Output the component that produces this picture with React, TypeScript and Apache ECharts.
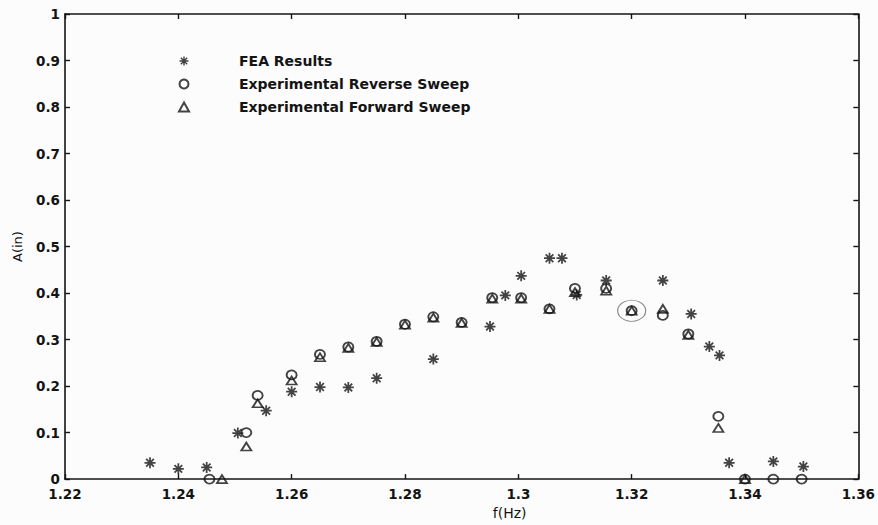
import React, { useEffect, useRef } from "react";
import * as echarts from "echarts";

// ---- Data ----
const xMin = 1.22;
const xMax = 1.36;
const xInterval = 0.02;
const yMin = 0;
const yMax = 1;
const yInterval = 0.1;

const seriesNames = [
  "FEA Results",
  "Experimental Reverse Sweep",
  "Experimental Forward Sweep",
];

const xAxisTitle = "f(Hz)";
const yAxisTitle = "A(in)";

// FEA results (asterisks): [frequency Hz, amplitude in]
const feaResults: [number, number][] = [
  [1.235, 0.035],
  [1.24, 0.022],
  [1.245, 0.025],
  [1.2505, 0.099],
  [1.2555, 0.147],
  [1.26, 0.188],
  [1.265, 0.198],
  [1.27, 0.197],
  [1.275, 0.217],
  [1.285, 0.258],
  [1.295, 0.328],
  [1.2977, 0.395],
  [1.3005, 0.437],
  [1.3055, 0.475],
  [1.3077, 0.475],
  [1.3103, 0.396],
  [1.3155, 0.427],
  [1.3255, 0.427],
  [1.3305, 0.355],
  [1.3337, 0.285],
  [1.3355, 0.266],
  [1.3372, 0.035],
  [1.345, 0.038],
  [1.3503, 0.027],
];

// Experimental reverse sweep (circles)
const reverseSweep: [number, number][] = [
  [1.2455, 0.0],
  [1.252, 0.1],
  [1.254, 0.18],
  [1.26, 0.224],
  [1.265, 0.268],
  [1.27, 0.284],
  [1.275, 0.296],
  [1.28, 0.333],
  [1.285, 0.349],
  [1.29, 0.337],
  [1.2954, 0.39],
  [1.3005, 0.39],
  [1.3055, 0.366],
  [1.31, 0.41],
  [1.3155, 0.41],
  [1.32, 0.362],
  [1.3255, 0.352],
  [1.33, 0.312],
  [1.3353, 0.135],
  [1.34, 0.0],
  [1.345, 0.0],
  [1.35, 0.0],
];

// Experimental forward sweep (triangles)
const forwardSweep: [number, number][] = [
  [1.2477, 0.0],
  [1.252, 0.07],
  [1.254, 0.163],
  [1.26, 0.212],
  [1.265, 0.262],
  [1.27, 0.282],
  [1.275, 0.295],
  [1.28, 0.332],
  [1.285, 0.347],
  [1.29, 0.336],
  [1.2954, 0.388],
  [1.3005, 0.388],
  [1.3055, 0.366],
  [1.31, 0.402],
  [1.3155, 0.405],
  [1.32, 0.362],
  [1.3255, 0.366],
  [1.33, 0.31],
  [1.3353, 0.11],
  [1.34, 0.0],
];

// The hand-circled point in the reference
const circledFrequency = 1.32;

// ---- Styling ----
const INK = "#141414";
const ASTERISK =
  "path://M0 8.4H20V11.6H0Z M8.4 0H11.6V20H8.4Z M1.87 4.13L4.13 1.87L18.13 15.87L15.87 18.13Z M15.87 1.87L18.13 4.13L4.13 18.13L1.87 15.87Z";

const labelFont = {
  fontFamily: "DejaVu Sans",
  fontWeight: "bold" as const,
  fontSize: 13.5,
  color: INK,
};

const axisLine = { show: true, onZero: false, lineStyle: { color: INK, width: 1.6 } };
const axisTick = { show: true, inside: true, length: 5, lineStyle: { color: INK, width: 1.4 } };

export default function App() {
  const ref = useRef<HTMLDivElement>(null);

  useEffect(() => {
    document.body.style.margin = "0";
    if (!ref.current) return;
    const chart = echarts.init(ref.current, null, { renderer: "svg" });

    const option: echarts.EChartsOption = {
      animation: false,
      backgroundColor: "#fcfcfc",
      grid: { left: 65, right: 18, top: 14, bottom: 39, containLabel: false },
      legend: {
        data: seriesNames,
        orient: "vertical",
        left: 173,
        top: 49,
        itemWidth: 10,
        itemHeight: 9,
        itemGap: 9,
        selectedMode: false,
        textStyle: {
          fontFamily: "DejaVu Sans",
          fontWeight: "bold",
          fontSize: 14,
          lineHeight: 14,
          color: INK,
          padding: [0, 0, 0, 45],
        },
      },
      xAxis: [
        {
          type: "value",
          position: "bottom",
          min: xMin,
          max: xMax,
          interval: xInterval,
          name: xAxisTitle,
          nameLocation: "middle",
          nameGap: 22,
          nameTextStyle: {
            fontFamily: "DejaVu Sans",
            fontSize: 14,
            color: INK,
            padding: [0, 0, 0, 96],
          },
          axisLine,
          axisTick,
          axisLabel: { ...labelFont, margin: 8 },
          splitLine: { show: false },
        },
        {
          type: "value",
          position: "top",
          min: xMin,
          max: xMax,
          interval: xInterval,
          axisLine,
          axisTick,
          axisLabel: { show: false },
          splitLine: { show: false },
        },
      ],
      yAxis: [
        {
          type: "value",
          position: "left",
          min: yMin,
          max: yMax,
          interval: yInterval,
          name: yAxisTitle,
          nameLocation: "middle",
          nameGap: 41,
          nameTextStyle: {
            fontFamily: "DejaVu Sans",
            fontSize: 13,
            color: INK,
          },
          axisLine,
          axisTick,
          axisLabel: { ...labelFont, margin: 5 },
          splitLine: { show: false },
        },
        {
          type: "value",
          position: "right",
          min: yMin,
          max: yMax,
          interval: yInterval,
          axisLine,
          axisTick,
          axisLabel: { show: false },
          splitLine: { show: false },
        },
      ],
      series: [
        {
          name: seriesNames[0],
          type: "scatter",
          data: feaResults,
          symbol: ASTERISK,
          symbolSize: 11,
          clip: false,
          itemStyle: { color: INK },
          z: 3,
        },
        {
          name: seriesNames[1],
          type: "scatter",
          data: reverseSweep,
          symbol: "circle",
          symbolSize: [10, 9],
          clip: false,
          itemStyle: { color: "transparent", borderColor: INK, borderWidth: 1.8 },
        },
        {
          name: seriesNames[2],
          type: "scatter",
          data: forwardSweep,
          symbol: "triangle",
          symbolSize: [10, 8],
          clip: false,
          itemStyle: { color: "transparent", borderColor: INK, borderWidth: 1.8 },
        },
        {
          name: "circled",
          type: "scatter",
          data: reverseSweep.filter((p) => p[0] === circledFrequency),
          symbol: "circle",
          symbolSize: [28, 21],
          clip: false,
          silent: true,
          itemStyle: { color: "transparent", borderColor: "#6a6a6a", borderWidth: 1 },
        },
      ],
    };

    chart.setOption(option);
    return () => chart.dispose();
  }, []);

  return <div ref={ref} style={{ width: 878, height: 525 }} />;
}
